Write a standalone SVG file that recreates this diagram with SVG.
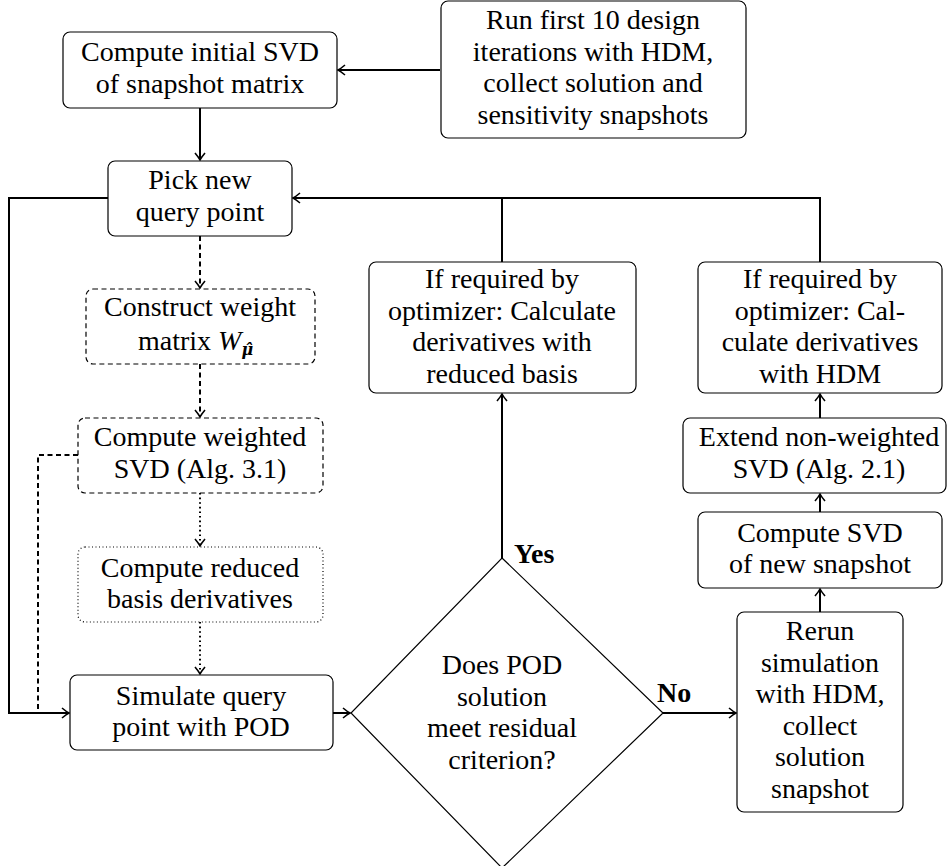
<svg xmlns="http://www.w3.org/2000/svg" width="948" height="866" viewBox="0 0 948 866">
<style>
  .box { fill: #fff; stroke: #000; stroke-width: 1.2; }
  .dash { stroke-dasharray: 5 3.5; }
  .dot { stroke-dasharray: 1 2.5; }
  .t { font-family: "Liberation Serif", serif; font-size: 28px; fill: #000; text-anchor: middle; }
  .b { font-weight: bold; }
  .l { text-anchor: start; }
  .c { fill: none; stroke: #000; stroke-width: 2; }
  .cd { stroke-dasharray: 5 3.5; }
  .cdot { stroke-dasharray: 1.6 3; }
</style>
<defs>
  <marker id="ah" viewBox="-9 -7 11 14" refX="0" refY="0" markerWidth="11" markerHeight="14" orient="auto" markerUnits="userSpaceOnUse">
    <path d="M-7,-5 Q-2.5,-1.2 0,0 Q-2.5,1.2 -7,5" fill="none" stroke="#000" stroke-width="1.6" stroke-dasharray="none"/>
  </marker>
</defs>

<g id="connectors">
  <path class="c" d="M440,70 L338,70" marker-end="url(#ah)"/>
  <path class="c" d="M200,108 L200,160" marker-end="url(#ah)"/>
  <path class="c cd" d="M200,236 L200,288" marker-end="url(#ah)"/>
  <path class="c cd" d="M200,364 L200,417" marker-end="url(#ah)"/>
  <path class="c cdot" d="M200,493 L200,546" marker-end="url(#ah)"/>
  <path class="c cdot" d="M200,622 L200,674" marker-end="url(#ah)"/>
  <path class="c" d="M108,198 L9,198 L9,713 L69,713" marker-end="url(#ah)"/>
  <path class="c cd" d="M78,455 L38,455 L38,713"/>
  <path class="c" d="M333,713 L350,713" marker-end="url(#ah)"/>
  <path class="c" d="M502,558 L502,394" marker-end="url(#ah)"/>
  <path class="c" d="M663,713 L736,713" marker-end="url(#ah)"/>
  <path class="c" d="M820,612 L820,589" marker-end="url(#ah)"/>
  <path class="c" d="M820,512 L820,494" marker-end="url(#ah)"/>
  <path class="c" d="M820,418 L820,394" marker-end="url(#ah)"/>
  <path class="c" d="M502,262 L502,198"/>
  <path class="c" d="M820,262 L820,198 L293,198" marker-end="url(#ah)"/>
  <text class="t b l" x="514" y="563">Yes</text>
  <text class="t b l" x="657" y="702">No</text>
</g>

<g id="n-initial-svd">
  <rect class="box" x="63" y="32" width="274" height="76" rx="7"/>
  <text class="t" x="200" y="61">Compute initial SVD</text>
  <text class="t" x="200" y="93">of snapshot matrix</text>
</g>

<g id="n-run-first">
  <rect class="box" x="441" y="1" width="305" height="137" rx="7"/>
  <text class="t" x="593" y="29">Run first 10 design</text>
  <text class="t" x="593" y="60.5">iterations with HDM,</text>
  <text class="t" x="593" y="92">collect solution and</text>
  <text class="t" x="593" y="123.5">sensitivity snapshots</text>
</g>

<g id="n-pick">
  <rect class="box" x="108" y="161" width="184" height="75" rx="7"/>
  <text class="t" x="200" y="189">Pick new</text>
  <text class="t" x="200" y="220.5">query point</text>
</g>

<g id="n-construct">
  <rect class="box dash" x="86" y="289" width="229" height="75" rx="7"/>
  <text class="t" x="200" y="316">Construct weight</text>
  <text class="t l" x="138" y="350">matrix <tspan font-style="italic">W</tspan><tspan font-family="DejaVu Serif, serif" font-size="16" font-weight="bold" font-style="italic" dy="5">μ̂</tspan></text>
</g>

<g id="n-weighted-svd">
  <rect class="box dash" x="78" y="418" width="245" height="75" rx="7"/>
  <text class="t" x="200" y="446">Compute weighted</text>
  <text class="t" x="200" y="477.5">SVD (Alg. 3.1)</text>
</g>

<g id="n-reduced-deriv">
  <rect class="box dot" x="78" y="547" width="245" height="75" rx="7"/>
  <text class="t" x="200" y="576.5">Compute reduced</text>
  <text class="t" x="200" y="608">basis derivatives</text>
</g>

<g id="n-simulate">
  <rect class="box" x="70" y="675" width="263" height="75" rx="7"/>
  <text class="t" x="201" y="704.5">Simulate query</text>
  <text class="t" x="201" y="736">point with POD</text>
</g>

<g id="n-decision">
  <polygon class="box" points="502,558 663,713 502,868 351,713"/>
  <text class="t" x="502" y="674">Does POD</text>
  <text class="t" x="502" y="705.5">solution</text>
  <text class="t" x="502" y="737">meet residual</text>
  <text class="t" x="502" y="768.5">criterion?</text>
</g>

<g id="n-deriv-reduced">
  <rect class="box" x="369" y="262" width="267" height="131" rx="7"/>
  <text class="t" x="502" y="288">If required by</text>
  <text class="t" x="502" y="319.5">optimizer: Calculate</text>
  <text class="t" x="502" y="351">derivatives with</text>
  <text class="t" x="502" y="382.5">reduced basis</text>
</g>

<g id="n-deriv-hdm">
  <rect class="box" x="698" y="262" width="244" height="131" rx="7"/>
  <text class="t" x="820" y="288">If required by</text>
  <text class="t" x="820" y="319.5">optimizer: Cal-</text>
  <text class="t" x="820" y="351">culate derivatives</text>
  <text class="t" x="820" y="382.5">with HDM</text>
</g>

<g id="n-extend">
  <rect class="box" x="683" y="418" width="263" height="75" rx="7"/>
  <text class="t" x="819" y="446">Extend non-weighted</text>
  <text class="t" x="819" y="477.5">SVD (Alg. 2.1)</text>
</g>

<g id="n-compute-svd-new">
  <rect class="box" x="698" y="512" width="244" height="76" rx="7"/>
  <text class="t" x="820" y="541.5">Compute SVD</text>
  <text class="t" x="820" y="573">of new snapshot</text>
</g>

<g id="n-rerun">
  <rect class="box" x="737" y="612" width="166" height="200" rx="7"/>
  <text class="t" x="820" y="640">Rerun</text>
  <text class="t" x="820" y="671.5">simulation</text>
  <text class="t" x="820" y="703">with HDM,</text>
  <text class="t" x="820" y="734.5">collect</text>
  <text class="t" x="820" y="766">solution</text>
  <text class="t" x="820" y="797.5">snapshot</text>
</g>
</svg>
